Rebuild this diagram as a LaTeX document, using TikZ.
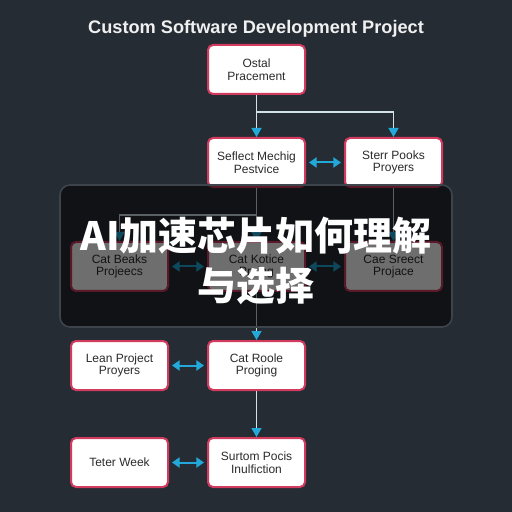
\documentclass[tikz,border=0pt]{standalone}
\usepackage{fontspec}
\setmainfont{Liberation Sans}
\newfontfamily\cjkfont{Noto Sans CJK SC}
\usepackage{xcolor}
\usetikzlibrary{arrows.meta,positioning}

\definecolor{slate}{HTML}{262C34}
\definecolor{crimson}{HTML}{D23A5E}
\definecolor{paleline}{HTML}{D2E2E8}
\definecolor{skycyan}{HTML}{22A9D9}
\definecolor{inkgray}{HTML}{2B2B2B}
\definecolor{veiledge}{HTML}{3E444C}

\begin{document}
\begin{tikzpicture}[
  x=0.5pt, y=-0.5pt,
  card/.style={
    draw=crimson,
    fill=white,
    line width=1pt,
    rounded corners=2.5pt,
    align=center,
    minimum width=48.5pt,
    minimum height=24.5pt,
    inner sep=1pt,
    text=inkgray,
    font=\fontsize{6}{6.3}\selectfont
  },
  link/.style={
    -{Triangle[length=4.5pt,width=5pt,color=skycyan]},
    draw=paleline,
    line width=0.7pt
  },
  swap/.style={
    {Triangle[length=3.8pt,width=5pt]}-{Triangle[length=3.8pt,width=5pt]},
    draw=skycyan,
    line width=1pt,
    shorten <=1.5pt,
    shorten >=1.5pt
  },
  veil/.style={
    fill=black,
    fill opacity=0.57,
    draw=veiledge,
    line width=0.8pt,
    rounded corners=5pt,
    minimum width=196pt,
    minimum height=71pt
  },
  node distance=19pt
]

% Backdrop
\fill[slate] (0,0) rectangle (512,512);

% Heading
\node[text=white!94!black, font=\bfseries\fontsize{9.1}{11}\selectfont] (title) at (256,28.5) {Custom Software Development Project};

% Top card
\node[card] (ostal) at (256.5,69.5) {Ostal\\Pracement};

% Second row
\node[card, below=21pt of ostal] (seflect) {Seflect Mechig\\Pestvice};
\node[card, right=of seflect] (sterr) {Sterr Pooks\\Proyers};

% Third row (under the veil)
\node[card, below=26.5pt of seflect] (catk) {Cat Kotice\\Proing};
\node[card, left=of catk] (catb) {Cat Beaks\\Projeecs};
\node[card, right=of catk] (cae) {Cae Sreect\\Projace};

% Fourth row
\node[card, below=24pt of catk] (catr) {Cat Roole\\Proging};
\node[card, left=of catr] (lean) {Lean Project\\Proyers};

% Bottom row
\node[card, below=23pt of catr] (surtom) {Surtom Pocis\\Inulfiction};
\node[card, left=of surtom] (teter) {Teter Week};

% Forks
\coordinate[below=8.5pt of ostal.south] (forkA);
\coordinate[below=13.5pt of seflect.south] (forkB);

\draw[link] (ostal) -- (seflect);
\draw[link] (forkA) -| (sterr);
\draw[swap] (seflect) -- (sterr);

\draw[link] (seflect) -- (catk);
\draw[link] (forkB) -| (catb);
\draw[link] (sterr) -- (cae);
\draw[swap] (catb) -- (catk);
\draw[swap] (catk) -- (cae);

\draw[link] (catk) -- (catr);
\draw[swap] (lean) -- (catr);
\draw[link] (catr) -- (surtom);
\draw[swap] (teter) -- (surtom);

% Veil and caption
\node[veil] (veil) at (256,256) {};
\node[text=white, align=center, font=\cjkfont\bfseries\fontsize{19.5}{25}\selectfont] (banner) at (256,261) {AI加速芯片如何理解\\与选择};

\end{tikzpicture}
\end{document}
